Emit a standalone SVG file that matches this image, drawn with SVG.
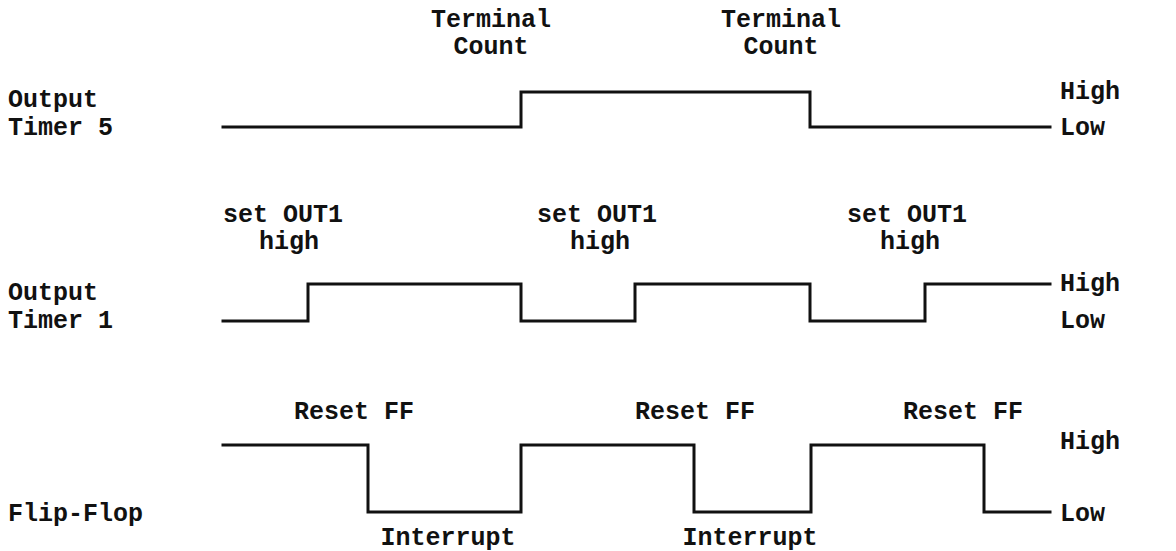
<svg xmlns="http://www.w3.org/2000/svg" width="1176" height="551" viewBox="0 0 1176 551">
<style>
text{font-family:"Liberation Mono","Courier New",monospace;font-size:25px;font-weight:bold;fill:#111}
.m{text-anchor:middle}
.w{fill:none;stroke:#111;stroke-width:3;stroke-linejoin:miter;stroke-linecap:square}
</style>
<rect width="1176" height="551" fill="#fff"/>
<g id="labels">
<text x="8" y="107">Output</text><text x="8" y="135">Timer 5</text>
<text x="8" y="300">Output</text><text x="8" y="328">Timer 1</text>
<text x="8" y="521">Flip-Flop</text>
</g>
<g id="levels">
<text x="1060" y="99">High</text><text x="1060" y="135">Low</text>
<text x="1060" y="291">High</text><text x="1060" y="328">Low</text>
<text x="1060" y="449">High</text><text x="1060" y="521">Low</text>
</g>
<g id="events">
<text class="m" x="491" y="27">Terminal</text><text class="m" x="491" y="54">Count</text>
<text class="m" x="781" y="27">Terminal</text><text class="m" x="781" y="54">Count</text>
<text class="m" x="283" y="222">set OUT1</text><text class="m" x="289" y="249">high</text>
<text class="m" x="597" y="222">set OUT1</text><text class="m" x="600" y="249">high</text>
<text class="m" x="907" y="222">set OUT1</text><text class="m" x="910" y="249">high</text>
<text class="m" x="354" y="419">Reset FF</text>
<text class="m" x="695" y="419">Reset FF</text>
<text class="m" x="963" y="419">Reset FF</text>
<text class="m" x="448" y="545">Interrupt</text>
<text class="m" x="750" y="545">Interrupt</text>
</g>
<g id="connectors">
<path id="timer5" class="w" d="M223 127H521V92H810V127H1050"/>
<path id="timer1" class="w" d="M223 321H308V284H521V321H635V284H810V321H925V284H1050"/>
<path id="flipflop" class="w" d="M223 445H368V512H521V445H694V512H811V445H984V512H1050"/>
</g>
</svg>
